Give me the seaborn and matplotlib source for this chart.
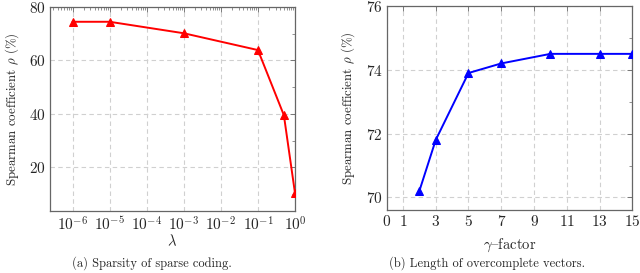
import matplotlib
matplotlib.use("Agg")
import matplotlib.pyplot as plt
import matplotlib.ticker as mticker
import seaborn as sns
import pandas as pd
import numpy as np

# data
lam = [1e-6, 1e-5, 1e-3, 1e-1, 0.5, 1.0]
rho_lam = [74.5, 74.5, 70.2, 63.9, 39.5, 10.2]
gamma = [2, 3, 5, 7, 10, 13, 15]
rho_gamma = [70.2, 71.8, 73.9, 74.2, 74.5, 74.5, 74.5]
gamma_ticks = [0, 1, 3, 5, 7, 9, 11, 13, 15]
left_yticks = [20, 40, 60, 80]
right_yticks = [70, 72, 74, 76]
captions = ["(a) Sparsity of sparse coding.", "(b) Length of overcomplete vectors."]
ylabel = r"Spearman coefficient $\rho$ (%)"

sns.set_style("white")
plt.rcParams["font.family"] = ["cmr10", "DejaVu Serif"]
plt.rcParams["mathtext.fontset"] = "cm"
plt.rcParams["axes.formatter.use_mathtext"] = True
plt.rcParams["axes.unicode_minus"] = True

fig = plt.figure(figsize=(6.4, 2.73), dpi=100)
ax1 = fig.add_axes([0.078, 0.227, 0.383, 0.747])
ax2 = fig.add_axes([0.604, 0.230, 0.384, 0.748])

frame_col = "#666666"
grid_kw = dict(color="#d0d0d0", linestyle=(0, (4, 3)), linewidth=0.8)

df1 = pd.DataFrame({"lam": lam, "rho": rho_lam})
sns.lineplot(data=df1, x="lam", y="rho", ax=ax1, color="#ff0000", marker="^",
             markersize=6, markeredgecolor="#ff0000", linewidth=1.4, zorder=3)
ax1.set_xscale("log")
ax1.set_xlim(10 ** -6.61, 1.0)
ax1.set_ylim(3.6, 80)
ax1.xaxis.set_major_locator(mticker.FixedLocator([1e-6, 1e-5, 1e-4, 1e-3, 1e-2, 1e-1, 1e0]))
ax1.xaxis.set_major_formatter(mticker.FuncFormatter(lambda v, p: r"$10^{%d}$" % int(round(np.log10(v)))))
ax1.xaxis.set_minor_locator(mticker.LogLocator(base=10, subs=np.arange(2, 10), numticks=20))
ax1.xaxis.set_minor_formatter(mticker.NullFormatter())
ax1.set_yticks(left_yticks)
ax1.yaxis.set_minor_locator(mticker.FixedLocator([10, 30, 50, 70]))
ax1.set_xlabel(r"$\lambda$", fontsize=10.5, labelpad=0)

df2 = pd.DataFrame({"gamma": gamma, "rho": rho_gamma})
sns.lineplot(data=df2, x="gamma", y="rho", ax=ax2, color="#0000ff", marker="^",
             markersize=6, markeredgecolor="#0000ff", linewidth=1.4, zorder=3)
ax2.set_xlim(0, 15)
ax2.set_ylim(69.6, 76)
ax2.set_xticks(gamma_ticks)
ax2.set_yticks(right_yticks)
ax2.yaxis.set_minor_locator(mticker.FixedLocator([71, 73, 75]))
ax2.set_xlabel(r"$\gamma$" + "{factor", fontsize=10.5, labelpad=5)

for ax in (ax1, ax2):
    ax.grid(True, which="major", **grid_kw)
    ax.set_ylabel(ylabel, fontsize=9.3, labelpad=6)
    for s in ax.spines.values():
        s.set_color(frame_col)
        s.set_linewidth(0.9)
    ax.tick_params(which="major", direction="in", length=3.5, width=0.6, color=frame_col,
                   top=True, right=True, labelsize=11, pad=3)
    ax.tick_params(which="minor", direction="in", length=2, width=0.5, color=frame_col,
                   top=True, right=True)
    ax.set_axisbelow(True)

fig.text(0.238, 0.01, captions[0], ha="center", va="bottom", fontsize=9)
fig.text(0.761, 0.01, captions[1], ha="center", va="bottom", fontsize=9)

fig.savefig("out.png", dpi=100)
